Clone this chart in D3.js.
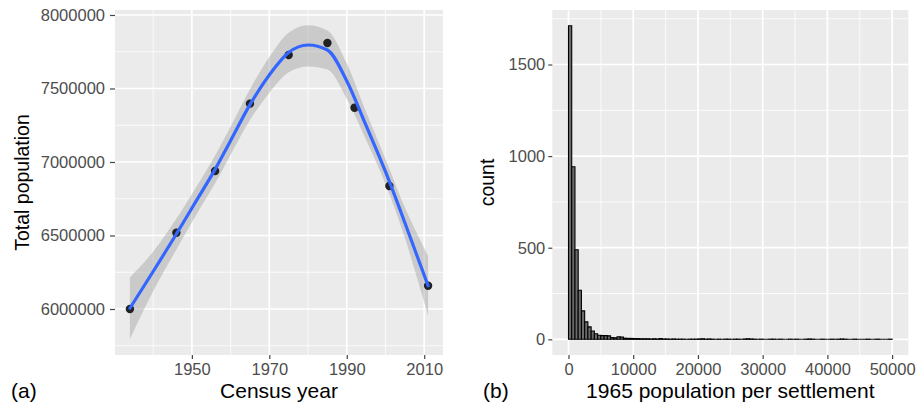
<!DOCTYPE html>
<html>
<head>
<meta charset="utf-8">
<script src="https://cdn.jsdelivr.net/npm/d3@7"></script>
<style>
  html, body { margin: 0; padding: 0; background: #ffffff; }
  svg { display: block; font-family: "Liberation Sans", Arial, sans-serif; }
</style>
</head>
<body>
<svg id="chart" width="920" height="409"></svg>
<script>
// ---------- Panel (a): census totals ----------
const censusYears = [1934, 1946, 1956, 1965, 1975, 1985, 1992, 2001, 2011];
const censusPop   = [6000000, 6519000, 6939000, 7397000, 7728000, 7810000, 7369000, 6837000, 6158000];

// smoothed (loess) curve and its confidence band
const smoothYears = [1934, 1940, 1946, 1951, 1956, 1960, 1965, 1970, 1975, 1980, 1985, 1990, 1995, 2000, 2005, 2008, 2011];
const smoothFit   = [6005000, 6255000, 6510000, 6730000, 6950000, 7145000, 7390000, 7592000, 7745000, 7796000, 7762000, 7551000, 7247000, 6934000, 6587000, 6372000, 6158000];
const smoothUpper = [6215000, 6390000, 6615000, 6825000, 7045000, 7240000, 7495000, 7715000, 7880000, 7930000, 7895000, 7670000, 7340000, 7020000, 6690000, 6520000, 6360000];
const smoothLower = [5795000, 6120000, 6405000, 6635000, 6855000, 7050000, 7285000, 7470000, 7610000, 7650000, 7630000, 7430000, 7150000, 6850000, 6485000, 6225000, 5955000];

const yearTicks = [1950, 1970, 1990, 2010];
const yearMinor = [1940, 1960, 1980, 2000];
const popTicks  = [6000000, 6500000, 7000000, 7500000, 8000000];
const popMinor  = [5750000, 6250000, 6750000, 7250000, 7750000];

// ---------- Panel (b): histogram of 1965 settlement populations ----------
const binWidth = 500;
const binCounts = [
  1712, 942, 489, 268, 155, 95, 68, 45, 30, 22,
  20, 20, 19, 9, 8, 14, 12, 6, 5, 5,
  4, 4, 3, 3, 3, 2, 3, 2, 4, 2,
  2, 1, 2, 1, 1, 1, 0, 1, 1, 1,
  2, 3, 1, 2, 1, 0, 1, 0, 1, 1,
  0, 1, 1, 0, 2, 3, 2, 1, 0, 1,
  0, 0, 1, 1, 0, 1, 0, 0, 1, 0,
  1, 0, 0, 1, 2, 1, 0, 0, 1, 0,
  0, 1, 0, 1, 2, 1, 0, 0, 1, 0,
  0, 0, 1, 0, 0, 1, 0, 0, 0, 1
];
const popSettTicks = [0, 10000, 20000, 30000, 40000, 50000];
const popSettMinor = [5000, 15000, 25000, 35000, 45000];
const countTicks = [0, 500, 1000, 1500];
const countMinor = [250, 750, 1250, 1750];

// ---------- drawing ----------
const svg = d3.select("#chart");
const PANEL_BG = "#EBEBEB";
const TICK_COLOR = "#4D4D4D";
const TICK_FONT = 16.5;
const XTITLE_FONT = 21;
const YTITLE_FONT = 19.5;

function drawPanel(g, x, y, xTicks, xMinor, yTicks, yMinor) {
  const [x0, x1] = x.range();
  const [y0, y1] = y.range();
  g.append("rect").attr("x", x0).attr("y", y1).attr("width", x1 - x0).attr("height", y0 - y1).attr("fill", PANEL_BG);
  const grid = g.append("g");
  grid.selectAll("line.ymin").data(yMinor).join("line")
    .attr("x1", x0).attr("x2", x1).attr("y1", d => y(d)).attr("y2", d => y(d))
    .attr("stroke", "#fff").attr("stroke-width", 0.8);
  grid.selectAll("line.xmin").data(xMinor).join("line")
    .attr("y1", y0).attr("y2", y1).attr("x1", d => x(d)).attr("x2", d => x(d))
    .attr("stroke", "#fff").attr("stroke-width", 0.8);
  grid.selectAll("line.ymaj").data(yTicks).join("line")
    .attr("x1", x0).attr("x2", x1).attr("y1", d => y(d)).attr("y2", d => y(d))
    .attr("stroke", "#fff").attr("stroke-width", 1.7);
  grid.selectAll("line.xmaj").data(xTicks).join("line")
    .attr("y1", y0).attr("y2", y1).attr("x1", d => x(d)).attr("x2", d => x(d))
    .attr("stroke", "#fff").attr("stroke-width", 1.7);
}

function styleAxis(sel) {
  sel.select(".domain").remove();
  sel.selectAll(".tick line").attr("stroke", "#444").attr("stroke-width", 1.2);
  sel.selectAll(".tick text").attr("fill", TICK_COLOR).style("font-size", TICK_FONT + "px")
    .style("font-family", '"Liberation Sans", Arial, sans-serif');
}

// Panel (a)
const xA = d3.scaleLinear().domain([1930.15, 2014.85]).range([115, 443]);
const yA = d3.scaleLinear().domain([5687000, 8034000]).range([355, 10]);
const gA = svg.append("g");
drawPanel(gA, xA, yA, yearTicks, yearMinor, popTicks, popMinor);

const idx = d3.range(smoothYears.length);
const band = d3.area()
  .x(i => xA(smoothYears[i])).y0(i => yA(smoothLower[i])).y1(i => yA(smoothUpper[i]))
  .curve(d3.curveMonotoneX);
gA.append("path").attr("d", band(idx)).attr("fill", "#999999").attr("fill-opacity", 0.4);

gA.selectAll("circle").data(d3.range(censusYears.length)).join("circle")
  .attr("cx", i => xA(censusYears[i])).attr("cy", i => yA(censusPop[i])).attr("r", 4.2)
  .attr("fill", "#222222");

const fitLine = d3.line().x(i => xA(smoothYears[i])).y(i => yA(smoothFit[i])).curve(d3.curveMonotoneX);
gA.append("path").attr("d", fitLine(idx)).attr("fill", "none").attr("stroke", "#3366FF").attr("stroke-width", 3.2)
  .attr("stroke-linecap", "round");

gA.append("g").attr("transform", "translate(0,355)")
  .call(d3.axisBottom(xA).tickValues(yearTicks).tickFormat(d3.format("d")).tickSize(4).tickPadding(4))
  .call(styleAxis);
gA.append("g").attr("transform", "translate(115,0)")
  .call(d3.axisLeft(yA).tickValues(popTicks).tickFormat(d3.format("d")).tickSize(5).tickPadding(5))
  .call(styleAxis);

gA.append("text").attr("x", 279).attr("y", 398).attr("text-anchor", "middle")
  .style("font-size", XTITLE_FONT + "px").attr("fill", "#000").text("Census year");
gA.append("text").attr("transform", "translate(29,182.5) rotate(-90)").attr("text-anchor", "middle")
  .style("font-size", YTITLE_FONT + "px").attr("fill", "#000").text("Total population");
gA.append("text").attr("x", 11).attr("y", 398)
  .style("font-size", XTITLE_FONT + "px").attr("fill", "#000").text("(a)");

// Panel (b)
const xB = d3.scaleLinear().domain([-2500, 52500]).range([552.3, 908.3]);
const yB = d3.scaleLinear().domain([-85.6, 1797.6]).range([355, 10]);
const gB = svg.append("g");
drawPanel(gB, xB, yB, popSettTicks, popSettMinor, countTicks, countMinor);

gB.selectAll("path.bar").data(binCounts).join("path").attr("class", "bar")
  .attr("d", (d, i) => {
    const xa = xB(i * binWidth), xb = xB((i + 1) * binWidth);
    const y0 = yB(0), y1 = yB(d);
    return `M${xa},${y0}V${y1}H${xb}V${y0}Z`;
  })
  .attr("fill", "#6b6b6b").attr("stroke", "#000").attr("stroke-width", 1.1)
  .attr("stroke-linejoin", "miter");

gB.append("g").attr("transform", "translate(0,355)")
  .call(d3.axisBottom(xB).tickValues(popSettTicks).tickFormat(d3.format("d")).tickSize(4).tickPadding(4))
  .call(styleAxis);
gB.append("g").attr("transform", "translate(552.3,0)")
  .call(d3.axisLeft(yB).tickValues(countTicks).tickFormat(d3.format("d")).tickSize(4).tickPadding(3))
  .call(styleAxis);

gB.append("text").attr("x", 730.3).attr("y", 398).attr("text-anchor", "middle")
  .style("font-size", XTITLE_FONT + "px").attr("fill", "#000").text("1965 population per settlement");
gB.append("text").attr("transform", "translate(494,182.5) rotate(-90)").attr("text-anchor", "middle")
  .style("font-size", YTITLE_FONT + "px").attr("fill", "#000").text("count");
gB.append("text").attr("x", 483).attr("y", 398)
  .style("font-size", XTITLE_FONT + "px").attr("fill", "#000").text("(b)");
</script>
</body>
</html>
